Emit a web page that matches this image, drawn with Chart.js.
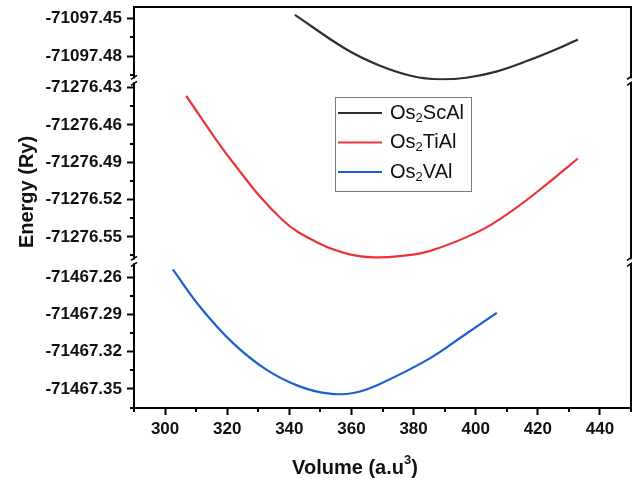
<!DOCTYPE html>
<html>
<head>
<meta charset="utf-8">
<script src="https://cdn.jsdelivr.net/npm/chart.js@4.4.1/dist/chart.umd.min.js"></script>
<style>
  html, body { margin: 0; padding: 0; background: #fff; }
  #wrap { width: 632px; height: 481px; position: relative; }
</style>
</head>
<body>
<div id="wrap"><canvas id="eos"></canvas></div>
<script>
const seriesNames  = ['Os2ScAl', 'Os2TiAl', 'Os2VAl'];
const seriesColors = ['#2e2e2e', '#ec3338', '#1b5fd3'];

// Os2ScAl
const volScAl    = [341.8, 358.3, 369.0, 379.8, 388.4, 397.0, 406.6, 417.3, 428.0, 432.9];
const energyScAl = [-71097.4468, -71097.4745, -71097.4875, -71097.4962, -71097.4987,
                    -71097.4974, -71097.4925, -71097.4832, -71097.4723, -71097.4666];
// Os2TiAl
const volTiAl    = [306.8, 321.8, 337.8, 349.7, 359.4, 367.4, 375.5, 385.1, 401.2, 412.0, 422.7, 432.9];
const energyTiAl = [-71276.4367, -71276.4900, -71276.5364, -71276.5554, -71276.5641, -71276.5665,
                    -71276.5655, -71276.5615, -71276.5454, -71276.5285, -71276.5080, -71276.4870];
// Os2VAl
const volVAl     = [302.5, 311.1, 321.8, 332.6, 343.3, 353.0, 361.0, 369.0, 385.1, 395.9, 406.8];
const energyVAl  = [-71467.2538, -71467.2834, -71467.3129, -71467.3344, -71467.3479, -71467.3538,
                    -71467.3530, -71467.3461, -71467.3256, -71467.3074, -71467.2887];

// broken y axis: one segment per compound [min, max]
const rangeScAl = [-71097.4995, -71097.4405];
const rangeTiAl = [-71276.5697, -71276.4241];
const rangeVAl  = [-71467.3653, -71467.2473];

const volumeRange = [290, 450];

const FONT = "'Liberation Sans', Arial, sans-serif";

const isMultiple = (v, step) => Math.abs(v / step - Math.round(v / step)) < 1e-3;
const minorTick = c => c.tick && c.tick.label === '' ? 'rgba(0,0,0,0)' : '#000';

function energyAxis(range) {
    return {
        type: 'linear',
        position: 'left',
        stack: 'energy',
        stackWeight: range[1] - range[0],
        min: range[0],
        max: range[1],
        border: { color: '#000', width: 2 },
        grid: { drawOnChartArea: false, tickLength: 7, tickWidth: 2, tickColor: minorTick },
        ticks: {
            stepSize: 0.015,
            includeBounds: false,
            autoSkip: false,
            padding: 5,
            color: '#111',
            font: { family: FONT, size: 17, weight: 'bold' },
            callback: v => isMultiple(v, 0.03) ? v.toFixed(2) : '',
        },
        afterFit: s => { s.width = 134; s.paddingTop = 0; s.paddingBottom = 0; },
    };
}

const toPoints = (xs, ys) => xs.map((x, i) => ({ x, y: ys[i] }));

// short ticks between the labelled ones
const minorTicks = {
    id: 'minorTicks',
    afterDraw(chart) {
        const ctx = chart.ctx;
        ctx.save();
        ctx.strokeStyle = '#000';
        ctx.lineWidth = 2;
        Object.values(chart.scales).forEach(s => {
            s.ticks.forEach(t => {
                if (t.label !== '') return;
                const p = Math.round(s.getPixelForValue(t.value));
                ctx.beginPath();
                if (s.isHorizontal()) { ctx.moveTo(p, s.top); ctx.lineTo(p, s.top + 4); }
                else { ctx.moveTo(s.right - 4, p); ctx.lineTo(s.right, p); }
                ctx.stroke();
            });
        });
        ctx.restore();
    },
};

function drawScripted(ctx, text, x, y, size, shift, align, bold) {
    // digits are drawn as sub/superscripts
    const parts = text.split(/(\d)/).filter(Boolean);
    const small = Math.round(size * 0.65);
    const fontOf = p => `${bold}${/\d/.test(p) ? small : size}px ${FONT}`;
    let w = 0;
    parts.forEach(p => { ctx.font = fontOf(p); w += ctx.measureText(p).width; });
    let cx = align === 'center' ? x - w / 2 : x;
    ctx.textAlign = 'left';
    parts.forEach(p => {
        ctx.font = fontOf(p);
        ctx.fillText(p, cx, /\d/.test(p) ? y + shift : y);
        cx += ctx.measureText(p).width;
    });
}

const decor = {
    id: 'decor',
    afterDraw(chart) {
        const { ctx, chartArea: a } = chart;
        ctx.save();
        // frame top and right
        ctx.strokeStyle = '#000';
        ctx.lineWidth = 2;
        ctx.beginPath();
        ctx.moveTo(a.left, a.top);
        ctx.lineTo(a.right, a.top);
        ctx.lineTo(a.right, a.bottom);
        ctx.stroke();

        // break marks on both vertical edges
        const mid = chart.scales.yTiAl;
        [mid.top, mid.bottom].forEach(by => {
            [a.left, a.right - 1].forEach(bx => {
                ctx.fillStyle = '#fff';
                ctx.fillRect(bx - 3, by - 2, 6, 4);
                ctx.strokeStyle = '#000';
                ctx.lineWidth = 1.6;
                ctx.beginPath();
                ctx.moveTo(bx - 3, by - 1); ctx.lineTo(bx + 3, by - 5);
                ctx.moveTo(bx - 3, by + 5); ctx.lineTo(bx + 3, by + 1);
                ctx.stroke();
            });
        });

        // axis titles
        ctx.fillStyle = '#111';
        ctx.textBaseline = 'middle';
        ctx.save();
        ctx.translate(27, 192);
        ctx.rotate(-Math.PI / 2);
        ctx.font = `bold 20px ${FONT}`;
        ctx.textAlign = 'center';
        ctx.fillText('Energy (Ry)', 0, 0);
        ctx.restore();
        drawScripted(ctx, 'Volume (a.u3)', 355, 468, 20, -8, 'center', 'bold ');

        // legend
        const lx = 335, ly = 97, lw = 136, lh = 94, row = 29.5;
        ctx.strokeStyle = '#7a7a7a';
        ctx.lineWidth = 1;
        ctx.strokeRect(lx + 0.5, ly + 0.5, lw, lh);
        chart.data.datasets.forEach((ds, i) => {
            const y = ly + 16 + i * row;
            ctx.strokeStyle = ds.borderColor;
            ctx.lineWidth = 2.2;
            ctx.beginPath();
            ctx.moveTo(lx + 3, y); ctx.lineTo(lx + 47, y);
            ctx.stroke();
            ctx.fillStyle = '#111';
            drawScripted(ctx, ds.label, lx + 55, y, 20, 5, 'left', '');
        });
        ctx.restore();
    },
};

const vols     = [volScAl, volTiAl, volVAl];
const energies = [energyScAl, energyTiAl, energyVAl];
const axisIds  = ['yScAl', 'yTiAl', 'yVAl'];

new Chart(document.getElementById('eos').getContext('2d'), {
    type: 'line',
    data: {
        datasets: seriesNames.map((name, i) => ({
            label: name,
            data: toPoints(vols[i], energies[i]),
            yAxisID: axisIds[i],
            borderColor: seriesColors[i],
            borderWidth: 2.2,
            pointRadius: 0,
            fill: false,
            tension: 0.4,
        })),
    },
    options: {
        responsive: true,
        maintainAspectRatio: false,
        animation: false,
        layout: { padding: { top: 7, right: 1, left: 0, bottom: 0 } },
        plugins: { legend: { display: false }, tooltip: { enabled: false } },
        scales: {
            x: {
                type: 'linear',
                min: volumeRange[0],
                max: volumeRange[1],
                border: { color: '#000', width: 2 },
                grid: { drawOnChartArea: false, tickLength: 7, tickWidth: 2, tickColor: minorTick },
                ticks: {
                    stepSize: 10,
                    autoSkip: false,
                    maxRotation: 0,
                    padding: 4,
                    color: '#111',
                    font: { family: FONT, size: 17, weight: 'bold' },
                    callback: v => isMultiple(v, 20) && v > volumeRange[0] ? String(v) : '',
                },
                afterFit: s => { s.height = 73; s.paddingLeft = 0; s.paddingRight = 0; },
            },
            // stacked axes are laid out bottom-up in the order given
            yVAl:  energyAxis(rangeVAl),
            yTiAl: energyAxis(rangeTiAl),
            yScAl: energyAxis(rangeScAl),
        },
    },
    plugins: [minorTicks, decor],
});
</script>
</body>
</html>
